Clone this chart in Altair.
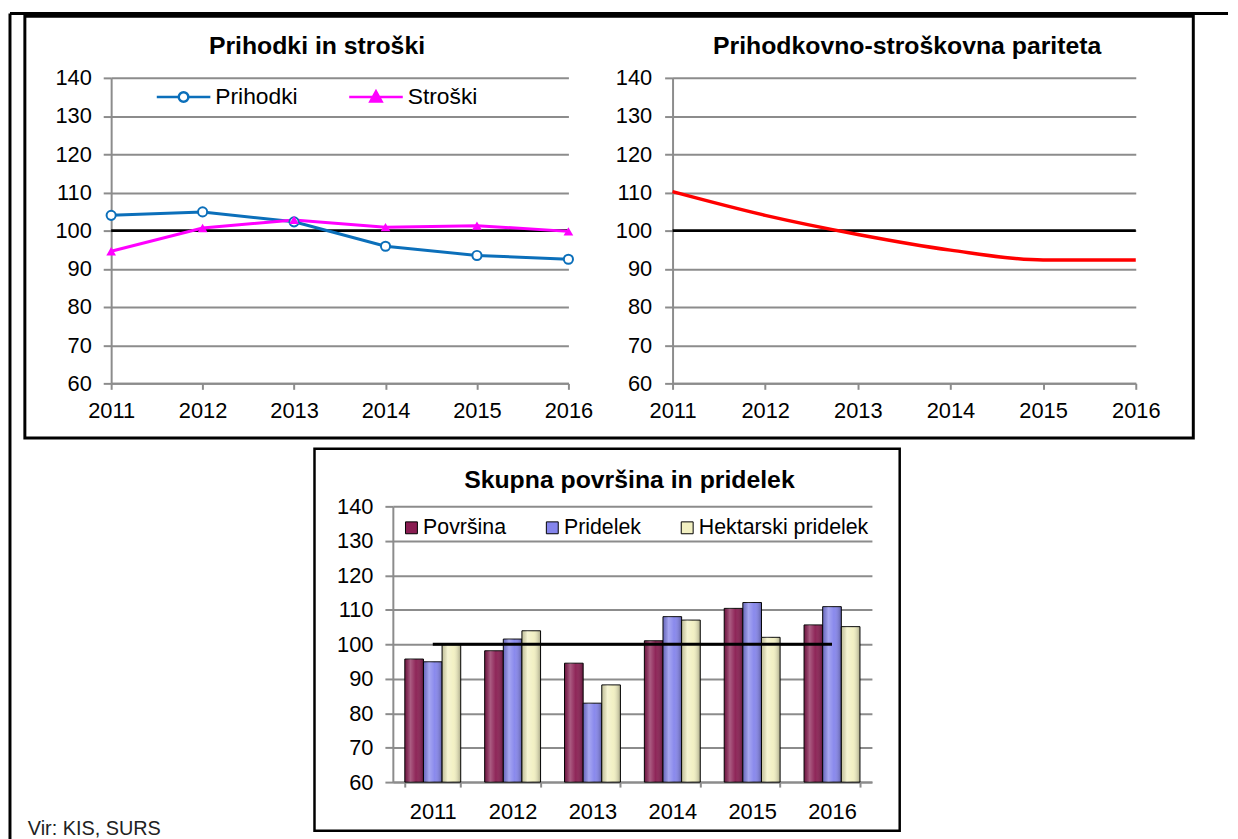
import altair as alt
import pandas as pd

# ---------------- data ----------------
years = ["2011", "2012", "2013", "2014", "2015", "2016"]
prihodki = [104.0, 104.9, 102.3, 95.9, 93.5, 92.5]
stroski = [94.6, 100.7, 102.8, 100.9, 101.3, 99.8]
reference_100 = [100, 100, 100, 100, 100, 100]
pariteta = [110.2, 104.0, 99.0, 94.9, 92.3, 92.3]
povrsina = [95.7, 98.1, 94.5, 101.0, 110.4, 105.6]
pridelek = [94.9, 101.5, 82.9, 108.0, 112.1, 110.9]
hektarski = [99.8, 103.9, 88.2, 107.0, 102.0, 105.1]
y_ticks = [60, 70, 80, 90, 100, 110, 120, 130, 140]

line_series = ["Prihodki", "Stroški"]
bar_series = ["Površina", "Pridelek", "Hektarski pridelek"]

title_tl = "Prihodki in stroški"
title_tr = "Prihodkovno-stroškovna pariteta"
title_b = "Skupna površina in pridelek"
source_text = "Vir: KIS, SURS"

# ---------------- style ----------------
FONT = "Liberation Sans"
GRID = "#8c8c8c"
BLUE = "#0b6fba"
MAGENTA = "#ff00ff"
RED = "#ff0000"
BAR_COLORS = ["#8a1d52", "#8585ec", "#f2f0c2"]

df_lines = pd.DataFrame({
    "year": years * 2,
    "value": prihodki + stroski,
    "series": [line_series[0]] * 6 + [line_series[1]] * 6,
})
df_ref = pd.DataFrame({"year": years, "value": reference_100})
df_par = pd.DataFrame({"year": years, "value": pariteta})
df_bar = pd.DataFrame({
    "year": years * 3,
    "value": povrsina + pridelek + hektarski,
    "series": [bar_series[0]] * 6 + [bar_series[1]] * 6 + [bar_series[2]] * 6,
})
df_one = pd.DataFrame({"k": [0]})


def y_enc(pad):
    return alt.Y(
        "value:Q",
        scale=alt.Scale(domain=[60, 140], nice=False, zero=False),
        axis=alt.Axis(values=y_ticks, title=None, grid=True, gridColor=GRID, gridWidth=2,
                      domainColor=GRID, domainWidth=2, tickColor=GRID, tickWidth=2,
                      tickSize=8, labelFontSize=22, labelFont=FONT, labelColor="black",
                      labelPadding=pad),
    )


x_line = alt.X(
    "year:O",
    scale=alt.Scale(type="point", padding=0),
    axis=alt.Axis(title=None, labelAngle=0, domainColor=GRID, domainWidth=2, tickColor=GRID,
                  tickWidth=2, tickSize=6, labelFontSize=22, labelFont=FONT,
                  labelColor="black", labelPadding=11, grid=False),
)

# ---------------- top-left ----------------
PATH_CIRCLE = ("M-1,0L-0.18,0M0.18,0L1,0M-0.18,0A0.18,0.18,0,1,0,0.18,0"
               "A0.18,0.18,0,1,0,-0.18,0Z")
PATH_TRI = "M-1,0L1,0M0,-0.21L0.21,0.17L-0.21,0.17Z"

leg_tl = alt.Legend(title=None, orient="none", legendX=44.5, legendY=-9.5,
                    direction="horizontal", symbolSize=2916, symbolStrokeWidth=2.5,
                    labelFontSize=23, labelFont=FONT, labelColor="black", labelLimit=400,
                    labelOffset=3.5, columnPadding=46, padding=0)

ref_tl = alt.Chart(df_ref).mark_line(color="black", strokeWidth=3).encode(x=x_line, y=y_enc(12))
line_p = alt.Chart(df_lines).transform_filter(alt.datum.series == line_series[0]).mark_line(
    color=BLUE, strokeWidth=3).encode(x=x_line, y=y_enc(12))
line_s = alt.Chart(df_lines).transform_filter(alt.datum.series == line_series[1]).mark_line(
    color=MAGENTA, strokeWidth=3).encode(x=x_line, y=y_enc(12))
pts_p = alt.Chart(df_lines).transform_filter(alt.datum.series == line_series[0]).mark_point(
    shape="circle", filled=True, fill="white", stroke=BLUE, strokeWidth=2, size=85, opacity=1
).encode(x=x_line, y=y_enc(12))
pts_s = alt.Chart(df_lines).transform_filter(alt.datum.series == line_series[1]).mark_point(
    shape="triangle-up", filled=True, color=MAGENTA, size=95, opacity=1
).encode(x=x_line, y=y_enc(12))
legend_layer = alt.Chart(df_lines).transform_filter("false").mark_point(
    filled=True, size=2916, opacity=1
).encode(
    x=x_line, y=y_enc(12),
    shape=alt.Shape("series:N", scale=alt.Scale(domain=line_series, range=[PATH_CIRCLE, PATH_TRI]),
                    legend=leg_tl),
    color=alt.Color("series:N", scale=alt.Scale(domain=line_series, range=["white", MAGENTA]),
                    legend=leg_tl),
    stroke=alt.Stroke("series:N", scale=alt.Scale(domain=line_series, range=[BLUE, MAGENTA]),
                      legend=leg_tl),
)

top_left = alt.layer(ref_tl, line_p, line_s, pts_p, pts_s, legend_layer).properties(
    width=461, height=308,
    title=alt.TitleParams(title_tl, font=FONT, fontSize=25, fontWeight="bold", anchor="middle",
                          frame="group", dx=-23, offset=8, color="black"),
)

# ---------------- top-right ----------------
ref_tr = alt.Chart(df_ref).mark_line(color="black", strokeWidth=3).encode(x=x_line, y=y_enc(13))
par_tr = alt.Chart(df_par).mark_line(color=RED, strokeWidth=3.5, interpolate="monotone").encode(
    x=x_line, y=y_enc(13))
top_right = alt.layer(ref_tr, par_tr).properties(
    width=467, height=308,
    title=alt.TitleParams(title_tr, font=FONT, fontSize=25, fontWeight="bold", anchor="middle",
                          frame="group", dx=3, offset=8, color="black"),
)

# ---------------- spacer carrying the page frames ----------------
# frame decorations, positioned relative to this spacer's origin
deco = alt.Chart(df_one)
frame_top = deco.mark_rect(fill="transparent", stroke="black", strokeWidth=3).encode(
    x=alt.value(-87), x2=alt.value(1091), y=alt.value(-494), y2=alt.value(-69))
frame_bottom = deco.mark_rect(fill="transparent", stroke="black", strokeWidth=2.5).encode(
    x=alt.value(205), x2=alt.value(795), y=alt.value(-58), y2=alt.value(327))
outer_left = deco.mark_rule(color="black", strokeWidth=3).encode(
    x=alt.value(-102), y=alt.value(-497), y2=alt.value(340))
outer_top = deco.mark_rule(color="black", strokeWidth=3).encode(
    x=alt.value(-102), x2=alt.value(1126), y=alt.value(-497))
source = deco.mark_text(text=source_text, font=FONT, fontSize=20, color="#222222",
                        align="left", baseline="alphabetic").encode(
    x=alt.value(-84), y=alt.value(331))
spacer = alt.layer(frame_top, frame_bottom, outer_left, outer_top, source).properties(
    width=284, height=10)

# ---------------- bottom bars ----------------
x_bar = alt.X(
    "year:N",
    scale=alt.Scale(paddingInner=0.3, paddingOuter=0.15),
    axis=alt.Axis(title=None, labelAngle=0, domainColor=GRID, domainWidth=2, tickColor=GRID,
                  tickWidth=2, tickSize=5, tickBand="extent", labelFontSize=22, labelFont=FONT,
                  labelColor="black", labelPadding=15, grid=False),
)
leg_b = alt.Legend(title=None, orient="none", legendX=292, legendY=442.5, direction="horizontal",
                   symbolType="square", symbolSize=144, symbolStrokeColor="black",
                   symbolStrokeWidth=1, labelFontSize=21.5, labelFont=FONT, labelColor="black",
                   labelLimit=400, labelOffset=1, columnPadding=35, padding=0)
x_off = alt.XOffset("series:N", scale=alt.Scale(domain=bar_series, paddingInner=0),
                    sort=bar_series)
bars = alt.Chart(df_bar).mark_bar(stroke="black", strokeWidth=1).encode(
    x=x_bar, xOffset=x_off, y=y_enc(12), y2=alt.datum(60),
    fill=alt.Fill("series:N", scale=alt.Scale(domain=bar_series, range=BAR_COLORS),
                  legend=leg_b),
)
shade = alt.Gradient(
    gradient="linear", x1=0, x2=1, y1=0, y2=0,
    stops=[
        alt.GradientStop(offset=0, color="rgba(0,0,0,0.18)"),
        alt.GradientStop(offset=0.3, color="rgba(255,255,255,0.28)"),
        alt.GradientStop(offset=0.6, color="rgba(255,255,255,0.04)"),
        alt.GradientStop(offset=1, color="rgba(0,0,0,0.3)"),
    ],
)
bars_shade = alt.Chart(df_bar).mark_bar(color=shade, strokeWidth=0).encode(
    x=x_bar, xOffset=x_off, y=y_enc(12), y2=alt.datum(60),
)
ref_b = alt.Chart(df_ref).mark_line(color="black", strokeWidth=3).encode(x=x_bar, y=y_enc(12))
bottom = alt.layer(bars, bars_shade, ref_b).properties(
    width=483, height=278,
    title=alt.TitleParams(title_b, font=FONT, fontSize=25, fontWeight="bold", anchor="middle",
                          frame="group", dx=-3, offset=3, color="black"),
)

top_row = alt.hconcat(top_left, top_right, spacing=105, bounds="flush")
bottom_row = alt.hconcat(spacer, bottom, spacing=0, bounds="flush")

chart = alt.vconcat(top_row, bottom_row, spacing=432, bounds="flush").properties(
    padding={"left": 0, "top": 0, "right": 0, "bottom": 0},
    background="white",
).configure_view(stroke=None)

chart.save("out.html", embed_options={"renderer": "svg", "actions": False})
